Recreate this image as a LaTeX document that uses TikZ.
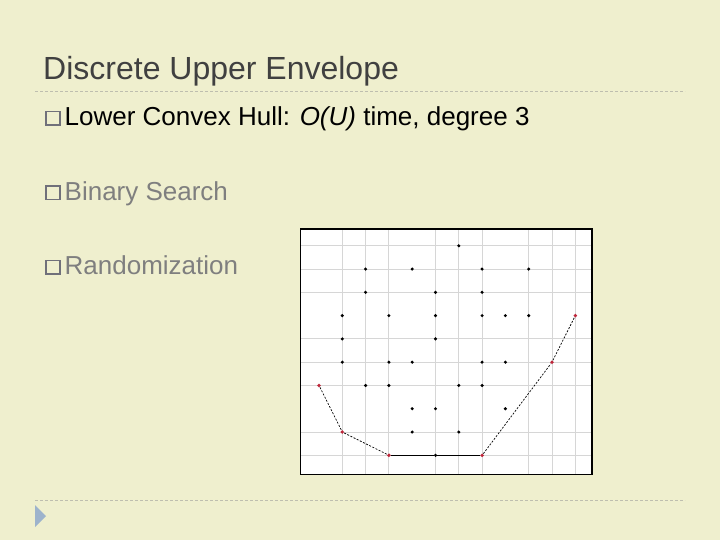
\documentclass[tikz,border=0pt]{standalone}
\usepackage{fontspec}
\setmainfont{Liberation Sans}
\definecolor{bg}{RGB}{239,239,206}
\definecolor{titlegray}{RGB}{64,64,64}
\definecolor{subgray}{RGB}{127,127,127}
\definecolor{bulletgray}{RGB}{112,112,122}
\definecolor{rulegray}{RGB}{190,190,175}
\definecolor{tri}{RGB}{157,179,204}
\definecolor{gridgray}{RGB}{214,214,214}
\definecolor{hullred}{RGB}{190,40,60}
\begin{document}
\begin{tikzpicture}[x=1pt,y=-1pt,
  bulletbox/.style={draw=bulletgray, line width=1.6pt, minimum size=13.5pt, inner sep=0pt},
  itemtext/.style={anchor=base west, inner sep=0pt, font=\fontsize{26}{31}\selectfont},
  rulerline/.style={rulegray, line width=0.8pt, dash pattern=on 3pt off 2pt},
  dot/.style={circle, fill=black, inner sep=0pt, minimum size=3.4pt},
  reddot/.style={circle, fill=hullred, inner sep=0pt, minimum size=3.8pt},
  hulldash/.style={black, line width=0.7pt, dash pattern=on 2pt off 1.5pt},
  hullsolid/.style={black, line width=1pt},
  gridline/.style={gridgray, line width=0.9pt}]
\fill[bg] (0,0) rectangle (720,540);
\useasboundingbox (0,0) rectangle (720,540);
% title
\node[anchor=base west, inner sep=0pt, text=titlegray, font=\fontsize{32}{38}\selectfont] (title) at (43,80) {Discrete Upper Envelope};
\coordinate (r1a) at (35,91); \coordinate (r1b) at (685,91);
\draw[rulerline] (r1a) -- (r1b);
\coordinate (r2a) at (35,500); \coordinate (r2b) at (685,500);
\draw[rulerline] (r2a) -- (r2b);
\fill[tri] (35,505) -- (46,516) -- (35,527) -- cycle;
% bullets
\node[bulletbox] (b1) at (53,118.2) {};
\node[bulletbox] (b2) at (53,192.7) {};
\node[bulletbox] (b3) at (53,267.2) {};
\node[itemtext, text=black] (t1) at (64.5,125.7) {Lower Convex Hull: \textit{O(U)} time, degree 3};
\node[itemtext, text=subgray] (t2) at (64.5,200.2) {Binary Search};
\node[itemtext, text=subgray] (t3) at (64.5,274.7) {Randomization};
% frame
\fill[white] (300.5,229) rectangle (592,474.5);
\begin{scope}[shift={(319,455.3)}, x=23.3pt, y=23.28pt]
  \foreach \c in {1,2,3,5,6,7,9,10,11}
    \draw[gridline] (\c,-0.82) -- (\c,9.75);
  \foreach \r in {0,1,3,4,5,7,8,9}
    \draw[gridline] (-0.79,\r) -- (11.73,\r);
\end{scope}
\draw[line width=1.1pt] (300.5,229) rectangle (592,474.5);
\begin{scope}[shift={(319,455.3)}, x=23.3pt, y=23.28pt]
  \foreach \c/\r in {6/9, 2/8, 4/8, 7/8, 9/8, 2/7, 5/7, 7/7,
                     1/6, 3/6, 5/6, 7/6, 8/6, 9/6, 1/5, 5/5,
                     1/4, 3/4, 4/4, 7/4, 8/4, 2/3, 3/3, 6/3, 7/3,
                     4/2, 5/2, 8/2, 4/1, 6/1, 5/0}
    \node[dot] (p\c-\r) at (\c,\r) {};
  \foreach \c/\r in {0/3, 1/1, 3/0, 7/0, 10/4, 11/6}
    \node[reddot] (p\c-\r) at (\c,\r) {};
  \draw[hulldash] (p0-3) -- (p1-1) -- (p3-0);
  \draw[hullsolid] (p3-0) -- (p5-0) -- (p7-0);
  \draw[hulldash] (p7-0) -- (p10-4) -- (p11-6);
\end{scope}
\end{tikzpicture}
\end{document}
